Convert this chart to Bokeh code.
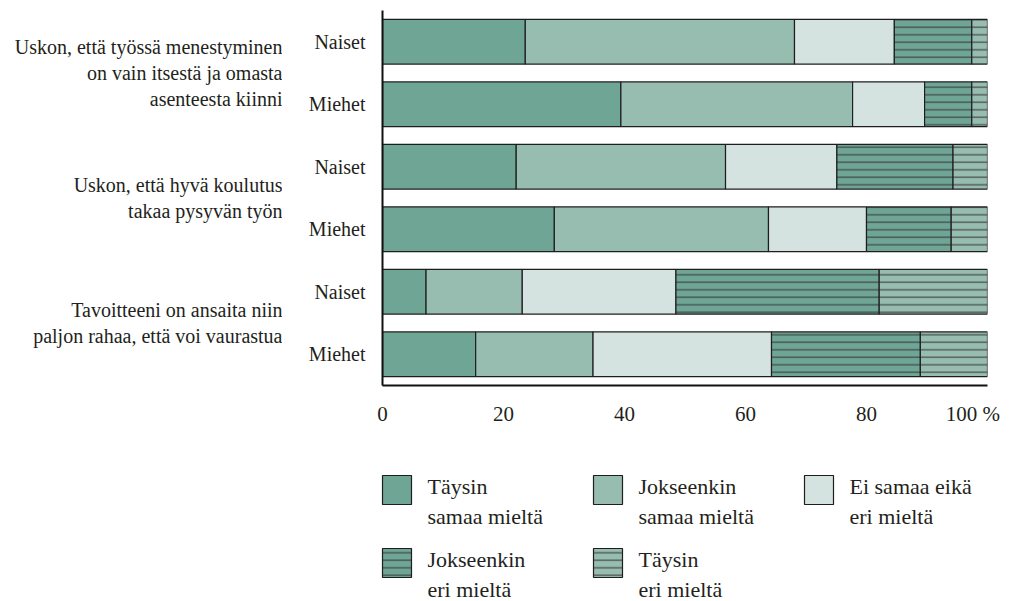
from bokeh.plotting import figure
from bokeh.models import FactorRange, Range1d, ColumnDataSource, FixedTicker
from bokeh.layouts import column, row
from bokeh.core.properties import value
from bokeh.embed import file_html
from bokeh.resources import INLINE

# ---------------- data ----------------
questions = [
    "Uskon, että työssä menestyminen\non vain itsestä ja omasta\nasenteesta kiinni",
    "Uskon, että hyvä koulutus\ntakaa pysyvän työn",
    "Tavoitteeni on ansaita niin\npaljon rahaa, että voi vaurastua",
]
genders = ["Naiset", "Miehet"]

categories = ["taysin_samaa", "jokseenkin_samaa", "ei_samaa_eika_eri",
              "jokseenkin_eri", "taysin_eri"]
legend_labels = ["Täysin\nsamaa mieltä", "Jokseenkin\nsamaa mieltä",
                 "Ei samaa eikä\neri mieltä", "Jokseenkin\neri mieltä",
                 "Täysin\neri mieltä"]

# rows: Q1 Naiset, Q1 Miehet, Q2 Naiset, Q2 Miehet, Q3 Naiset, Q3 Miehet (%)
taysin_samaa = [23.6, 39.4, 22.1, 28.4, 7.2, 15.4]
jokseenkin_samaa = [44.5, 38.3, 34.6, 35.4, 15.9, 19.4]
ei_samaa_eika_eri = [16.5, 11.9, 18.4, 16.2, 25.4, 29.5]
jokseenkin_eri = [12.8, 7.8, 19.2, 14.0, 33.6, 24.6]
taysin_eri = [2.6, 2.6, 5.7, 6.0, 17.9, 11.1]

x_tick_labels = ["0", "20", "40", "60", "80", "100 %"]
x_tick_values = [0, 20, 40, 60, 80, 100]

# ---------------- style ----------------
FONT = "Liberation Serif"
TEXT = "#231f20"
fill_colors = ["#6ea595", "#97bcb0", "#d4e3df", "#6ea595", "#97bcb0"]
hatch_patterns = [" ", " ", " ", "-", "-"]
EDGE = "#1e1e1e"

rows = [(q, g) for q in questions for g in genders]
source = ColumnDataSource(dict(
    y=rows,
    taysin_samaa=taysin_samaa,
    jokseenkin_samaa=jokseenkin_samaa,
    ei_samaa_eika_eri=ei_samaa_eika_eri,
    jokseenkin_eri=jokseenkin_eri,
    taysin_eri=taysin_eri,
))

y_range = FactorRange(factors=rows[::-1], factor_padding=0, group_padding=0,
                      subgroup_padding=0, range_padding=0)

H_TOP = 428
BORDER_TOP = 10
BORDER_BOTTOM = 40

# ---------------- main bar chart ----------------
p = figure(width=720, height=H_TOP, y_range=y_range, x_range=Range1d(0, 100),
           output_backend="svg", toolbar_location=None,
           min_border_left=100, min_border_right=15,
           min_border_top=BORDER_TOP, min_border_bottom=BORDER_BOTTOM)
p.hbar_stack(categories, y="y", height=0.714, source=source,
             fill_color=fill_colors, line_color=EDGE, line_width=1.2,
             hatch_pattern=hatch_patterns, hatch_color="#333333",
             hatch_scale=7.5, hatch_weight=1)

p.xgrid.visible = False
p.ygrid.visible = False
p.outline_line_color = None
p.background_fill_color = "white"
p.border_fill_color = "white"

for ax in (p.xaxis[0], p.yaxis[0]):
    ax.axis_line_width = 2
    ax.axis_line_color = "#111111"
    ax.major_tick_line_color = None
    ax.minor_tick_line_color = None
    ax.major_label_text_font = FONT
    ax.major_label_text_color = TEXT

# "100 %" label is centred a little left of the 100 tick in the original
label_positions = x_tick_values[:-1] + [97.6]
p.xaxis.ticker = FixedTicker(ticks=label_positions)
p.xaxis.major_label_overrides = {pos: lab for pos, lab in zip(label_positions, x_tick_labels)}
p.xaxis.major_label_text_font_size = "21px"
p.xaxis.major_label_standoff = 10

p.yaxis.major_label_text_font_size = "20px"
p.yaxis.major_label_standoff = 11
p.yaxis.group_text_color = None
p.yaxis.subgroup_text_color = None
p.yaxis.separator_line_color = None

# ---------------- question labels (shares the y range) ----------------
q = figure(width=282, height=H_TOP, y_range=y_range, x_range=Range1d(0, 1),
           x_axis_location=None, y_axis_location=None,
           output_backend="svg", toolbar_location=None,
           min_border_left=0, min_border_right=0,
           min_border_top=BORDER_TOP, min_border_bottom=BORDER_BOTTOM)
q.grid.visible = False
q.outline_line_color = None
q.text(x=[1] * len(questions), y=questions, text=questions,
       text_align="right", text_baseline="middle",
       text_font=value(FONT), text_font_size="20px", text_color=TEXT,
       text_line_height=1.2)

# ---------------- legend ----------------
LW, LH = 1002, 173
leg = figure(width=LW, height=LH, x_range=Range1d(0, LW), y_range=Range1d(LH, 0),
             x_axis_location=None, y_axis_location=None,
             output_backend="svg", toolbar_location=None,
             min_border_left=0, min_border_right=0, min_border_top=0, min_border_bottom=0)
leg.grid.visible = False
leg.outline_line_color = None

legend_cols = [0, 1, 2, 0, 1]
legend_rows = [0, 0, 0, 1, 1]
KEY = 29
col_x0, col_step = 382, 211
row_y0, row_step = 47, 73
key_left = [col_x0 + c * col_step for c in legend_cols]
key_top = [row_y0 + r * row_step for r in legend_rows]

leg.quad(left=key_left, right=[k + KEY for k in key_left],
         top=key_top, bottom=[t + KEY for t in key_top],
         fill_color=fill_colors, line_color=EDGE, line_width=1.2,
         hatch_pattern=hatch_patterns, hatch_color="#333333",
         hatch_scale=7.5, hatch_weight=1)
leg.text(x=[k + KEY + 16 for k in key_left], y=[t + KEY / 2 + 11.5 for t in key_top],
         text=legend_labels, text_align="left", text_baseline="middle",
         text_font=value(FONT), text_font_size="22px", text_color=TEXT,
         text_line_height=1.2)

layout = column(row(q, p), leg)
open("out.html", "w").write(file_html(layout, INLINE))
